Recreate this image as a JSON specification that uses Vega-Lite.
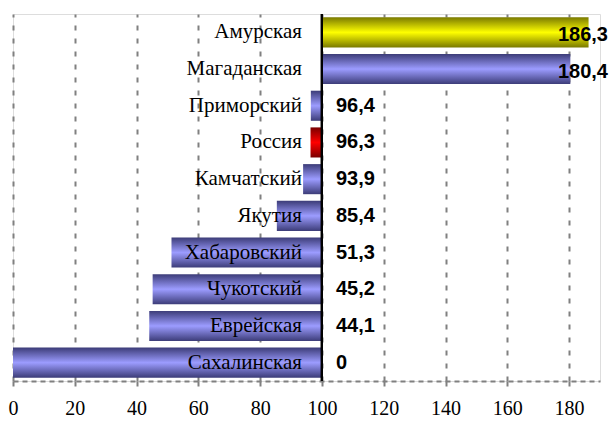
{
  "$schema": "https://vega.github.io/schema/vega-lite/v6.json",
  "width": 587,
  "height": 367,
  "autosize": {"type": "none"},
  "padding": {"left": 13, "top": 14, "right": 13, "bottom": 42},
  "background": "white",
  "data": {
    "values": [
      {"region": "Амурская", "value": 186.3, "group": "top"},
      {"region": "Магаданская", "value": 180.4, "group": "region"},
      {"region": "Приморский", "value": 96.4, "group": "region"},
      {"region": "Россия", "value": 96.3, "group": "russia"},
      {"region": "Камчатский", "value": 93.9, "group": "region"},
      {"region": "Якутия", "value": 85.4, "group": "region"},
      {"region": "Хабаровский", "value": 51.3, "group": "region"},
      {"region": "Чукотский", "value": 45.2, "group": "region"},
      {"region": "Еврейская", "value": 44.1, "group": "region"},
      {"region": "Сахалинская", "value": 0, "group": "region"}
    ]
  },
  "transform": [
    {"calculate": "replace(format(datum.value, '.1~f'), '.', ',')", "as": "label"}
  ],
  "encoding": {
    "y": {"field": "region", "type": "nominal",
          "sort": ["Амурская", "Магаданская", "Приморский", "Россия", "Камчатский", "Якутия", "Хабаровский", "Чукотский", "Еврейская", "Сахалинская"],
          "axis": null,
          "scale": {"paddingInner": 0.18, "paddingOuter": 0.09}}
  },
  "layer": [
    {
      "mark": {"type": "bar", "fill": {"gradient": "linear", "x1": 0, "y1": 0, "x2": 0, "y2": 1,
        "stops": [{"offset": 0, "color": "#3c3c78"}, {"offset": 0.5, "color": "#9c9cff"}, {"offset": 1, "color": "#3c3c78"}]}},
      "transform": [{"filter": "datum.group === 'region'"}],
      "encoding": {
        "x": {"field": "value", "type": "quantitative",
              "scale": {"domain": [0, 190], "nice": false, "zero": true},
              "axis": {"values": [0, 20, 40, 60, 80, 100, 120, 140, 160, 180], "title": null,
                       "grid": true, "gridColor": "#808080", "gridWidth": 2, "gridDash": [5, 8],
                       "domainColor": "#808080", "domainWidth": 2, "domainDash": [5, 4],
                       "tickColor": "#808080", "tickWidth": 2, "tickSize": 7, "tickDash": [5, 7],
                       "labelFont": "Liberation Serif", "labelFontSize": 20, "labelColor": "black",
                       "labelPadding": 10, "labelFlush": false}},
        "x2": {"datum": 100}
      }
    },
    {
      "mark": {"type": "bar", "fill": {"gradient": "linear", "x1": 0, "y1": 0, "x2": 0, "y2": 1,
        "stops": [{"offset": 0, "color": "#7a7a00"}, {"offset": 0.5, "color": "#ffff00"}, {"offset": 1, "color": "#7a7a00"}]}},
      "transform": [{"filter": "datum.group === 'top'"}],
      "encoding": {
        "x": {"field": "value", "type": "quantitative"},
        "x2": {"datum": 100}
      }
    },
    {
      "mark": {"type": "bar", "fill": {"gradient": "linear", "x1": 0, "y1": 0, "x2": 0, "y2": 1,
        "stops": [{"offset": 0, "color": "#7a0000"}, {"offset": 0.5, "color": "#ff0000"}, {"offset": 1, "color": "#7a0000"}]}},
      "transform": [{"filter": "datum.group === 'russia'"}],
      "encoding": {
        "x": {"field": "value", "type": "quantitative"},
        "x2": {"datum": 100}
      }
    },
    {
      "mark": {"type": "rule", "color": "black", "strokeWidth": 2},
      "encoding": {"x": {"datum": 100}, "y": null}
    },
    {
      "mark": {"type": "text", "align": "right", "baseline": "middle", "dx": -20,
               "font": "Liberation Serif", "fontSize": 21, "color": "black"},
      "encoding": {"x": {"datum": 100}, "text": {"field": "region"}}
    },
    {
      "mark": {"type": "text", "align": "left", "baseline": "middle", "dx": 14,
               "font": "Liberation Sans", "fontWeight": "bold", "fontSize": 20, "color": "black"},
      "transform": [{"filter": "datum.value < 100"}],
      "encoding": {"x": {"datum": 100}, "text": {"field": "label"}}
    },
    {
      "mark": {"type": "text", "align": "right", "baseline": "middle", "dx": 8, "dy": 3,
               "font": "Liberation Sans", "fontWeight": "bold", "fontSize": 20, "color": "black"},
      "transform": [{"filter": "datum.value > 100"}],
      "encoding": {"x": {"datum": 190}, "text": {"field": "label"}}
    }
  ]
}
